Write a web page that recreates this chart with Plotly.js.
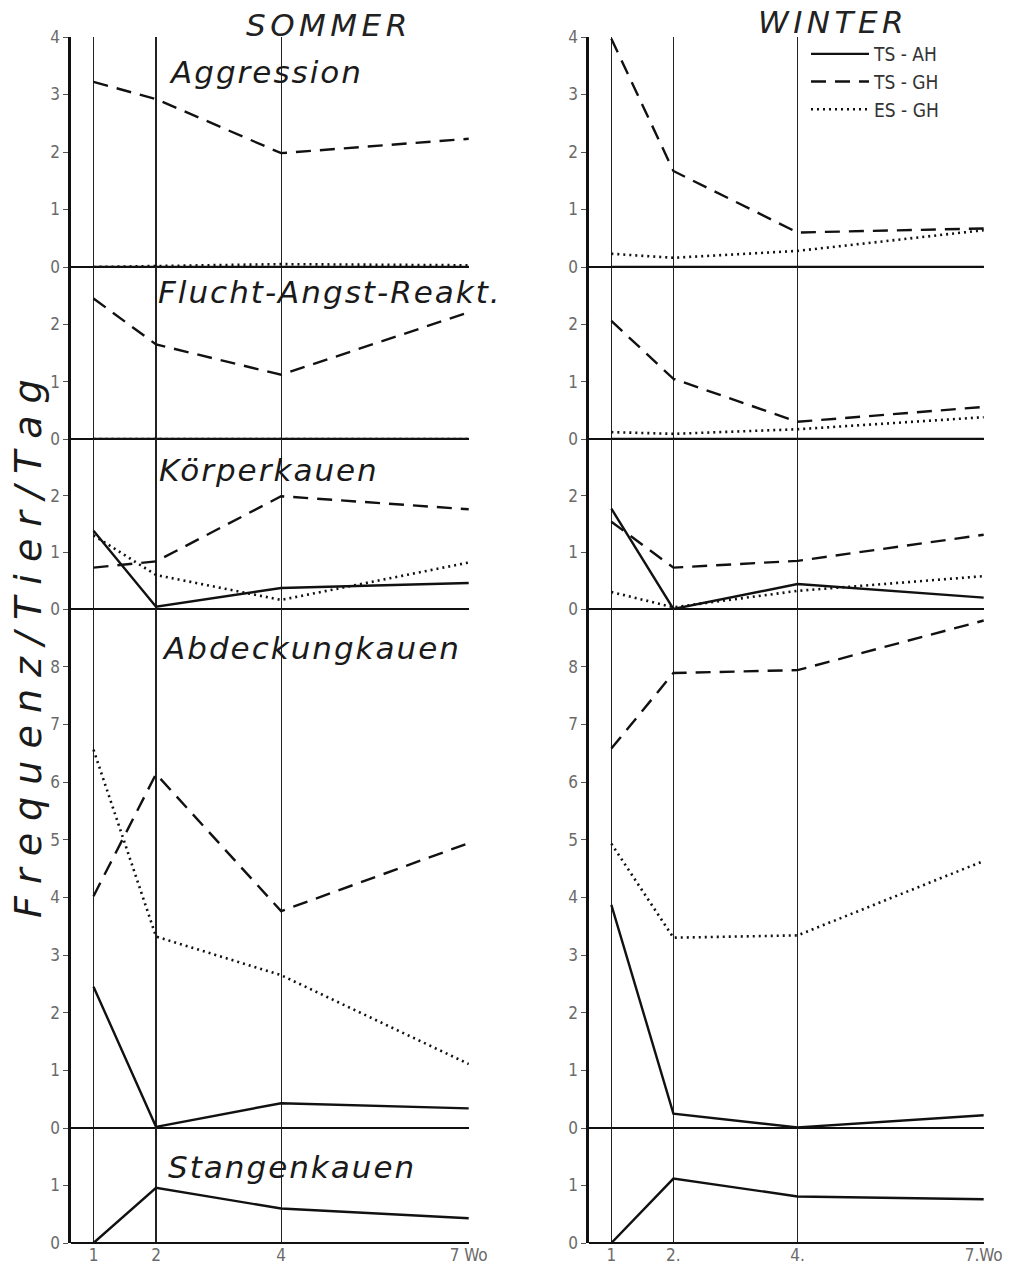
<!DOCTYPE html>
<html>
<head>
<meta charset="utf-8">
<script src="https://cdn.plot.ly/plotly-3.0.1.min.js"></script>
<style>html,body{margin:0;padding:0;background:#fff;}#chart{width:1030px;height:1266px;}</style>
</head>
<body>
<div id="chart"></div>
<script>
// ---- data ----
const weeks = [1, 2, 4, 7];
const weekLabelsSommer = ["1", "2", "4", "7 Wo"];
const weekLabelsWinter = ["1", "2.", "4.", "7.Wo"];
const seriesNames = ["TS - AH", "TS - GH", "ES - GH"];
const panelNames = ["Aggression", "Flucht-Angst-Reakt.", "Körperkauen", "Abdeckungkauen", "Stangenkauen"];
const seasonNames = ["SOMMER", "WINTER"];
const yAxisTitle = "F r e q u e n z / T i e r / T a g";

// SOMMER
const s_agg_tsah = [0, 0, 0, 0];
const s_agg_tsgh = [3.22, 2.92, 1.98, 2.23];
const s_agg_esgh = [0, 0.02, 0.05, 0.03];
const s_flu_tsah = [0, 0, 0, 0];
const s_flu_tsgh = [2.45, 1.65, 1.12, 2.21];
const s_flu_esgh = [0, 0, 0, 0];
const s_kor_tsah = [1.38, 0.04, 0.37, 0.46];
const s_kor_tsgh = [0.73, 0.84, 1.99, 1.76];
const s_kor_esgh = [1.3, 0.6, 0.16, 0.82];
const s_abd_tsah = [2.45, 0.02, 0.43, 0.34];
const s_abd_tsgh = [4.02, 6.14, 3.76, 4.94];
const s_abd_esgh = [6.56, 3.32, 2.65, 1.11];
const s_sta_tsah = [0, 0.96, 0.6, 0.43];

// WINTER
const w_agg_tsah = [0, 0, 0, 0];
const w_agg_tsgh = [3.97, 1.67, 0.6, 0.67];
const w_agg_esgh = [0.23, 0.16, 0.28, 0.64];
const w_flu_tsah = [0, 0, 0, 0];
const w_flu_tsgh = [2.06, 1.05, 0.3, 0.56];
const w_flu_esgh = [0.12, 0.09, 0.17, 0.38];
const w_kor_tsah = [1.77, 0, 0.44, 0.2];
const w_kor_tsgh = [1.54, 0.73, 0.85, 1.31];
const w_kor_esgh = [0.3, 0.03, 0.32, 0.58];
const w_abd_tsah = [3.87, 0.25, 0.01, 0.22];
const w_abd_tsgh = [6.58, 7.89, 7.94, 8.8];
const w_abd_esgh = [4.93, 3.3, 3.34, 4.63];
const w_sta_tsah = [0, 1.12, 0.81, 0.76];

// panel y ranges and tick values
const panelRanges = [4, 3, 3, 9, 2];
const panelTicks = [[0,1,2,3,4],[0,1,2],[0,1,2],[0,1,2,3,4,5,6,7,8],[0,1]];

// ---- layout helpers ----
const W = 1030, H = 1266;
const px = v => v / W;
const py = v => 1 - v / H;
const panelPix = [[37,267],[267,439],[439,609],[609,1128],[1128,1243]];
const colPix = [[71,469],[589,984]];

const styles = [
  {dash: "solid", width: 2.4},
  {dash: "15px,9px", width: 2.4},
  {dash: "2px,4px", width: 2.6}
];

const sommer = [
  [s_agg_tsah, s_agg_tsgh, s_agg_esgh],
  [s_flu_tsah, s_flu_tsgh, s_flu_esgh],
  [s_kor_tsah, s_kor_tsgh, s_kor_esgh],
  [s_abd_tsah, s_abd_tsgh, s_abd_esgh],
  [s_sta_tsah]
];
const winter = [
  [w_agg_tsah, w_agg_tsgh, w_agg_esgh],
  [w_flu_tsah, w_flu_tsgh, w_flu_esgh],
  [w_kor_tsah, w_kor_tsgh, w_kor_esgh],
  [w_abd_tsah, w_abd_tsgh, w_abd_esgh],
  [w_sta_tsah]
];

const traces = [];
[sommer, winter].forEach((col, c) => {
  col.forEach((panel, p) => {
    const yi = c * 5 + p + 1;
    panel.forEach((vals, s) => {
      traces.push({
        type: "scatter", mode: "lines",
        x: weeks, y: vals,
        xaxis: c === 0 ? "x" : "x2",
        yaxis: yi === 1 ? "y" : "y" + yi,
        name: seriesNames[s],
        line: {color: "#111", width: styles[s].width, dash: styles[s].dash},
        showlegend: (c === 1 && p === 0),
        hoverinfo: "skip"
      });
    });
  });
});

const tickFont = {family: "DejaVu Sans Condensed, DejaVu Sans", size: 17, color: "#6a6a6a"};
const layout = {
  width: W, height: H, autosize: false,
  margin: {l: 0, r: 0, t: 0, b: 0, pad: 0},
  paper_bgcolor: "#fff", plot_bgcolor: "rgba(0,0,0,0)",
  showlegend: true,
  legend: {
    x: px(806), y: py(35), xanchor: "left", yanchor: "top",
    bgcolor: "rgba(0,0,0,0)", itemwidth: 58,
    font: {family: "DejaVu Sans Condensed, DejaVu Sans", size: 19, color: "#333"},
    tracegroupgap: 0, itemclick: false
  },
  annotations: [],
  font: {family: "DejaVu Sans", color: "#111"}
};

[0, 1].forEach(c => {
  const xName = c === 0 ? "xaxis" : "xaxis2";
  layout[xName] = {
    domain: [px(colPix[c][0]), px(colPix[c][1])],
    range: [0.64, 7.005],
    anchor: c === 0 ? "y5" : "y10",
    tickvals: weeks,
    ticktext: c === 0 ? weekLabelsSommer : weekLabelsWinter,
    ticks: "", showline: false, zeroline: false,
    showgrid: true, gridcolor: "#222", gridwidth: 1.1,
    tickfont: tickFont, fixedrange: true
  };
  for (let p = 0; p < 5; p++) {
    const yi = c * 5 + p + 1;
    const name = yi === 1 ? "yaxis" : "yaxis" + yi;
    layout[name] = {
      domain: [py(panelPix[p][1]), py(panelPix[p][0])],
      range: [0, panelRanges[p]],
      anchor: c === 0 ? "x" : "x2",
      tickvals: panelTicks[p],
      ticks: "outside", ticklen: 5, tickwidth: 1, tickcolor: "#555",
      showline: true, linewidth: 2.6, linecolor: "#111",
      showgrid: false,
      zeroline: true, zerolinewidth: 2.4, zerolinecolor: "#111",
      tickfont: tickFont, fixedrange: true
    };
  }
});

// season titles
const titleFont = {family: "DejaVu Sans", size: 31, color: "#222"};
const spaced = (t, ls) => "<span style='letter-spacing:" + ls + "px'><i>" + t + "</i></span>";
layout.annotations.push({
  text: spaced(seasonNames[0], 4.5), xref: "paper", yref: "paper",
  x: px(329), y: py(25), xanchor: "center", yanchor: "middle",
  showarrow: false, font: titleFont
});
layout.annotations.push({
  text: spaced(seasonNames[1], 4.5), xref: "paper", yref: "paper",
  x: px(833), y: py(22), xanchor: "center", yanchor: "middle",
  showarrow: false, font: titleFont
});

// panel labels (sommer column)
const labelPos = [[167, 72], [156, 292], [157, 470], [160, 648], [166, 1167]];
panelNames.forEach((n, i) => {
  layout.annotations.push({
    text: spaced(n, 2), xref: "paper", yref: "paper",
    x: px(labelPos[i][0]), y: py(labelPos[i][1]), xanchor: "left", yanchor: "middle",
    showarrow: false, font: {family: "DejaVu Sans", size: 31, color: "#1a1a1a"}
  });
});

// y-axis title
layout.annotations.push({
  text: "<i>" + yAxisTitle + "</i>", xref: "paper", yref: "paper",
  x: px(28), y: py(649), xanchor: "center", yanchor: "middle", textangle: -90,
  showarrow: false, font: {family: "DejaVu Sans", size: 38, color: "#1a1a1a"}
});

Plotly.newPlot("chart", traces, layout, {staticPlot: true, displayModeBar: false});
</script>
</body>
</html>
